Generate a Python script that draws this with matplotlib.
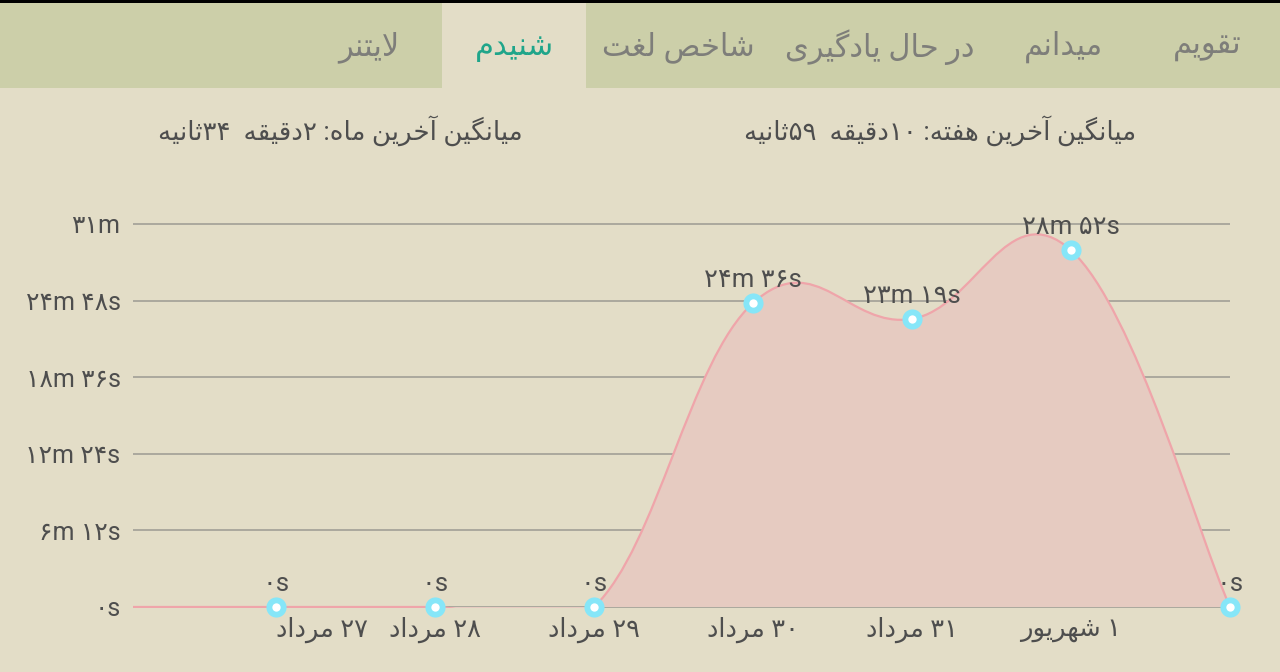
import matplotlib
matplotlib.use("Agg")
import matplotlib.pyplot as plt
from matplotlib.path import Path
from matplotlib.patches import PathPatch, Rectangle
import numpy as np

# ---------------- data ----------------
days = ['۲۶ مرداد', '۲۷ مرداد', '۲۸ مرداد', '۲۹ مرداد', '۳۰ مرداد', '۳۱ مرداد', '۱ شهریور', '۲ شهریور']
seconds = [0, 0, 0, 0, 1476, 1399, 1732, 0]
value_labels = ['۰s', '۰s', '۰s', '۰s', '۲۴m ۳۶s', '۲۳m ۱۹s', '۲۸m ۵۲s', '۰s']
shown_days = [1, 2, 3, 4, 5, 6]
shown_points = [1, 2, 3, 4, 5, 6, 7]
y_ticks = [0, 372, 744, 1116, 1488, 1860]
y_tick_labels = ['۰s', '۶m ۱۲s', '۱۲m ۲۴s', '۱۸m ۳۶s', '۲۴m ۴۸s', '۳۱m']
tabs = ['تقویم', 'میدانم', 'در حال یادگیری', 'شاخص لغت', 'شنیدم', 'لایتنر']
tab_x = [1207, 1063, 880, 678, 514, 369]
selected_tab = 4
week_avg = 'میانگین آخرین هفته: ۱۰دقیقه  ۵۹ثانیه'
month_avg = 'میانگین آخرین ماه: ۲دقیقه  ۳۴ثانیه'

# ---------------- minimal Persian shaping + bidi ----------------
FORMS = {
    'ا': ('\uFE8D', '\uFE8E', None, None),
    'آ': ('\uFE81', '\uFE82', None, None),
    'ت': ('\uFE95', '\uFE96', '\uFE97', '\uFE98'),
    'ث': ('\uFE99', '\uFE9A', '\uFE9B', '\uFE9C'),
    'ح': ('\uFEA1', '\uFEA2', '\uFEA3', '\uFEA4'),
    'خ': ('\uFEA5', '\uFEA6', '\uFEA7', '\uFEA8'),
    'د': ('\uFEA9', '\uFEAA', None, None),
    'ر': ('\uFEAD', '\uFEAE', None, None),
    'ش': ('\uFEB5', '\uFEB6', '\uFEB7', '\uFEB8'),
    'ص': ('\uFEB9', '\uFEBA', '\uFEBB', '\uFEBC'),
    'غ': ('\uFECD', '\uFECE', '\uFECF', '\uFED0'),
    'ف': ('\uFED1', '\uFED2', '\uFED3', '\uFED4'),
    'ق': ('\uFED5', '\uFED6', '\uFED7', '\uFED8'),
    'ل': ('\uFEDD', '\uFEDE', '\uFEDF', '\uFEE0'),
    'م': ('\uFEE1', '\uFEE2', '\uFEE3', '\uFEE4'),
    'ن': ('\uFEE5', '\uFEE6', '\uFEE7', '\uFEE8'),
    'ه': ('\uFEE9', '\uFEEA', '\uFEEB', '\uFEEC'),
    'و': ('\uFEED', '\uFEEE', None, None),
    'گ': ('\uFB92', '\uFB93', '\uFB94', '\uFB95'),
    'ی': ('\uFBFC', '\uFBFD', '\uFBFE', '\uFBFF'),
}
LAMALEF = {'ا': ('\uFEFB', '\uFEFC'), 'آ': ('\uFEF5', '\uFEF6')}


def dual(c):
    return c in FORMS and FORMS[c][2] is not None


def shape(text):
    out = []
    n = len(text)
    i = 0
    while i < n:
        c = text[i]
        if c not in FORMS:
            out.append(c)
            i += 1
            continue
        prev = text[i - 1] if i > 0 else ''
        jp = dual(prev)
        if c == 'ل' and i + 1 < n and text[i + 1] in LAMALEF:
            out.append(LAMALEF[text[i + 1]][1 if jp else 0])
            i += 2
            continue
        nxt = text[i + 1] if i + 1 < n else ''
        jn = dual(c) and nxt in FORMS
        iso, fin, ini, med = FORMS[c]
        if jp and jn:
            out.append(med)
        elif jp:
            out.append(fin)
        elif jn:
            out.append(ini)
        else:
            out.append(iso)
        i += 1
    return ''.join(out)


def is_ltr(c):
    return c.isascii() and c.isalnum() or ('\u06F0' <= c <= '\u06F9')


def rtl(text):
    s = shape(text)[::-1]
    res = []
    run = []
    for c in s:
        if is_ltr(c):
            run.append(c)
        else:
            if run:
                res.extend(run[::-1])
                run = []
            res.append(c)
    if run:
        res.extend(run[::-1])
    return ''.join(res)


# ---------------- style ----------------
FAM = ['Roboto', 'DejaVu Sans']
plt.rcParams['font.family'] = FAM
BG = '#E3DDC7'
TABBAR = '#CCCFA9'
TEXT = '#4E4E4E'
TAB_TEXT = '#7E7E7A'
TAB_SEL = '#1FA58A'
GRID = '#9C9A92'
LINE = '#EFA5AA'
FILL = '#E6CBC1'
MARK = '#86E6F8'

W, H = 1280, 672
fig = plt.figure(figsize=(W / 100, H / 100), dpi=100)
fig.patch.set_facecolor(BG)


def fx(px):
    return px / W


def fy(py):
    return 1 - py / H


# tab bar
fig.add_artist(Rectangle((0, fy(88)), 1, fy(3) - fy(88), transform=fig.transFigure,
                         facecolor=TABBAR, edgecolor='none', zorder=0))
fig.add_artist(Rectangle((fx(442), fy(88)), fx(586) - fx(442), fy(3) - fy(88),
                         transform=fig.transFigure, facecolor=BG, edgecolor='none', zorder=1))
fig.add_artist(Rectangle((0, fy(3)), 1, 1 - fy(3), transform=fig.transFigure,
                         facecolor='black', edgecolor='none', zorder=1))
for k, (t, x) in enumerate(zip(tabs, tab_x)):
    fig.text(fx(x), fy(47), rtl(t), ha='center', va='center', fontsize=22,
             color=TAB_SEL if k == selected_tab else TAB_TEXT, family=FAM, zorder=3)

# subtitles
fig.text(fx(940), fy(131), rtl(week_avg), ha='center', va='center', fontsize=18.8,
         color=TEXT, family=FAM)
fig.text(fx(340), fy(131), rtl(month_avg), ha='center', va='center', fontsize=18.8,
         color=TEXT, family=FAM)

# ---------------- chart ----------------
ax_top_px, ax_bot_px = 180, 640
y0_px, y1_px = 607, 224
scale = (y0_px - y1_px) / y_ticks[-1]
ylo = -(ax_bot_px - y0_px) / scale
yhi = y_ticks[-1] + (y1_px - ax_top_px) / scale
ax = fig.add_axes([fx(133), fy(ax_bot_px), fx(1230) - fx(133), fy(ax_top_px) - fy(ax_bot_px)])
ax.set_facecolor('none')
n = len(seconds)
spacing = (1071 - 912)
x_left = 1 - (276 - 133) / spacing
ax.set_xlim(x_left, n - 1)
ax.set_ylim(ylo, yhi)
for sp in ax.spines.values():
    sp.set_visible(False)
ax.set_xticks([])
ax.set_yticks(y_ticks)
ax.set_yticklabels(y_tick_labels, fontsize=18, color=TEXT, family=FAM)
ax.tick_params(axis='y', length=0, pad=9)
ax.yaxis.grid(True, color=GRID, linewidth=1.1)
ax.set_axisbelow(True)

# cubic bezier (intensity 0.2) path
xs = np.arange(n, dtype=float)
ys = np.array(seconds, dtype=float)
P = np.column_stack([xs, ys])
inten = 0.2
verts = [tuple(P[0])]
codes = [Path.MOVETO]
for i in range(n - 1):
    prev = P[max(i - 1, 0)]
    cur = P[i]
    nxt = P[i + 1]
    nn = P[min(i + 2, n - 1)]
    c1 = cur + inten * (nxt - prev)
    c2 = nxt - inten * (nn - cur)
    verts += [tuple(c1), tuple(c2), tuple(nxt)]
    codes += [Path.CURVE4] * 3
line_path = Path(verts, codes)
fill_verts = verts + [(xs[-1], 0), (xs[0], 0), (xs[0], ys[0])]
fill_codes = codes + [Path.LINETO, Path.LINETO, Path.CLOSEPOLY]

# content area clip (chart content stops at the zero line)
clip_low = -1.0 / scale
clip_rect = Rectangle((x_left, clip_low), (n - 1) - x_left, yhi - clip_low,
                      transform=ax.transData, facecolor='none', edgecolor='none')
ax.add_patch(clip_rect)
fill_patch = PathPatch(Path(fill_verts, fill_codes), facecolor=FILL, edgecolor='none', zorder=2)
line_patch = PathPatch(line_path, facecolor='none', edgecolor=LINE, linewidth=1.6, zorder=3)
ax.add_patch(fill_patch)
ax.add_patch(line_patch)
fill_patch.set_clip_path(clip_rect)
line_patch.set_clip_path(clip_rect)

px_idx = np.array(shown_points)
ax.plot(xs[px_idx], ys[px_idx], 'o', ms=14.5, color=MARK, mec='none', zorder=5, clip_on=False)
ax.plot(xs[px_idx], ys[px_idx], 'o', ms=6, color='white', mec='none', zorder=6, clip_on=False)

for i in shown_points:
    ax.annotate(value_labels[i], (xs[i], ys[i]), xytext=(0, 23), textcoords='offset pixels',
                ha='center', va='center', fontsize=18.5, color=TEXT, family=FAM,
                annotation_clip=False, zorder=7)

for i in shown_days:
    ax.annotate(rtl(days[i]), (xs[i], 0), xytext=(0, -23), textcoords='offset pixels',
                ha='left' if i == shown_days[0] else 'center', va='center', fontsize=18.5,
                color=TEXT, family=FAM, annotation_clip=False)

fig.savefig('out.png', dpi=100, facecolor=BG)
